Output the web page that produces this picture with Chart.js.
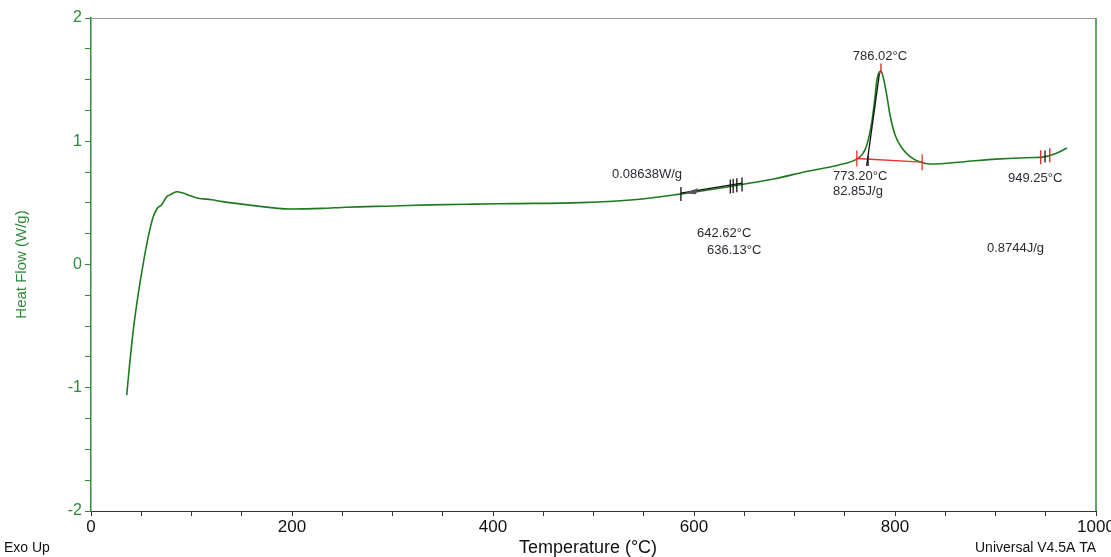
<!DOCTYPE html>
<html>
<head>
<meta charset="utf-8">
<title>DSC Heat Flow</title>
<script src="https://cdn.jsdelivr.net/npm/chart.js@4.4.1/dist/chart.umd.min.js"></script>
<style>
  body { margin: 0; background: #fff; }
  canvas { display: block; }
</style>
</head>
<body>
<canvas id="dsc" width="1111" height="557"></canvas>
<script>
// Heat flow curve
const temps = [35.5, 38.2, 42.1, 47.1, 52, 57, 62, 66, 70.3, 75.3, 78.6, 85.3, 91.5, 98, 105.5, 120, 131, 160, 198, 230, 254, 300, 337, 380, 420, 487, 546, 586, 636, 679, 712, 745, 762, 768, 772, 777, 780, 782, 786, 788.4, 791.7, 795, 800, 806.7, 815, 825, 835, 871, 900, 937, 947, 960, 971];
const heatFlow = [-1.06, -0.83, -0.53, -0.234, 0.01, 0.226, 0.389, 0.457, 0.484, 0.55, 0.565, 0.59, 0.58, 0.56, 0.54, 0.525, 0.51, 0.48, 0.45, 0.455, 0.465, 0.475, 0.484, 0.49, 0.494, 0.502, 0.53, 0.571, 0.633, 0.693, 0.755, 0.809, 0.855, 0.9, 0.97, 1.16, 1.35, 1.5, 1.57, 1.514, 1.378, 1.215, 1.053, 0.947, 0.876, 0.831, 0.815, 0.836, 0.855, 0.868, 0.871, 0.9, 0.945];

const xTicks = [0, 200, 400, 600, 800, 1000];
const yTicks = [-2, -1, 0, 1, 2];

// analysis labels: [text, temperature, heat flow]
const labels = [
  ["786.02°C", 785, 1.687, "center"],
  ["773.20°C", 738.3, 0.711, "left"],
  ["82.85J/g", 738.3, 0.589, "left"],
  ["0.08638W/g", 518.4, 0.728, "left"],
  ["642.62°C", 603, 0.256, "left"],
  ["636.13°C", 613, 0.118, "left"],
  ["949.25°C", 912.4, 0.695, "left"],
  ["0.8744J/g", 891.5, 0.134, "left"]
];

// analysis marks
const peakTemp = 786.02, peakFlow = 1.56;
const tangent = [[784.5, 1.55], [771.8, 0.80]];
const baseline = [[762, 0.86], [827, 0.83]];
const glassLine = [[587, 0.579], [647.8, 0.66]];
const glassTicks = [587, 636.13, 639, 642.62, 647.8];
const endBlack = [949.25];
const endRed = [945, 954];

const green = "#2f8a3a";
const curveGreen = "#1f7a1f";

const flowAt = (t) => {
  for (let i = 1; i < temps.length; i++) {
    if (temps[i] >= t) {
      const f = (t - temps[i - 1]) / (temps[i] - temps[i - 1]);
      return heatFlow[i - 1] + f * (heatFlow[i] - heatFlow[i - 1]);
    }
  }
  return heatFlow[heatFlow.length - 1];
};

const marks = {
  id: "marks",
  afterDatasetsDraw(chart) {
    const { ctx } = chart;
    const x = chart.scales.x, y = chart.scales.y;
    const px = (t) => x.getPixelForValue(t);
    const py = (v) => y.getPixelForValue(v);
    const seg = (a, b, col) => {
      ctx.strokeStyle = col;
      ctx.beginPath();
      ctx.moveTo(px(a[0]), py(a[1]));
      ctx.lineTo(px(b[0]), py(b[1]));
      ctx.stroke();
    };
    const vtick = (t, v, col, h) => {
      ctx.strokeStyle = col;
      ctx.beginPath();
      ctx.moveTo(px(t), py(v) - h);
      ctx.lineTo(px(t), py(v) + h);
      ctx.stroke();
    };
    ctx.save();
    ctx.lineWidth = 1.3;

    // peak
    vtick(peakTemp, peakFlow + 0.03, "#e02020", 5);
    seg(tangent[0], tangent[1], "#111");
    seg(baseline[0], baseline[1], "#e83030");
    vtick(baseline[0][0], baseline[0][1], "#e83030", 8);
    vtick(baseline[1][0], baseline[1][1], "#e83030", 8);
    vtick(773.2, 0.84, "#111", 5);

    // glass transition
    seg(glassLine[0], glassLine[1], "#111");
    glassTicks.forEach((t) => vtick(t, flowAt(t), "#111", 7));
    ctx.fillStyle = "#555";
    const ax = px(glassLine[0][0]) + 3, ay = py(glassLine[0][1]);
    ctx.beginPath();
    ctx.moveTo(ax, ay);
    ctx.lineTo(ax + 14, ay - 5);
    ctx.lineTo(ax + 12, ay + 1);
    ctx.closePath();
    ctx.fill();

    // end point
    endRed.forEach((t) => vtick(t, flowAt(t), "#e02020", 7));
    endBlack.forEach((t) => vtick(t, flowAt(t), "#111", 6));

    // texts
    ctx.font = "13px 'Liberation Sans', Arial, sans-serif";
    ctx.fillStyle = "#2a2a33";
    ctx.textBaseline = "middle";
    labels.forEach(([txt, t, v, al]) => {
      ctx.textAlign = al;
      ctx.fillText(txt, px(t), py(v));
    });
    ctx.restore();
  },
  afterDraw(chart) {
    const { ctx, chartArea } = chart;
    ctx.save();
    // frame top and right
    ctx.lineWidth = 1;
    ctx.strokeStyle = "#999";
    ctx.beginPath();
    ctx.moveTo(chartArea.left, chartArea.top + 0.5);
    ctx.lineTo(chartArea.right, chartArea.top + 0.5);
    ctx.stroke();
    ctx.strokeStyle = green;
    ctx.lineWidth = 1.5;
    ctx.beginPath();
    ctx.moveTo(chartArea.right, chartArea.top);
    ctx.lineTo(chartArea.right, chartArea.bottom);
    ctx.stroke();

    // axis titles and footer
    ctx.fillStyle = "#111";
    ctx.textBaseline = "middle";
    ctx.font = "18px 'Liberation Sans', Arial, sans-serif";
    ctx.textAlign = "center";
    ctx.fillText("Temperature (°C)", 588, 548);
    ctx.font = "14px 'Liberation Sans', Arial, sans-serif";
    ctx.textAlign = "left";
    ctx.fillText("Exo Up", 4, 548);
    ctx.fillText("Universal V4.5A TA", 975, 548);

    ctx.translate(22, (chartArea.top + chartArea.bottom) / 2);
    ctx.rotate(-Math.PI / 2);
    ctx.fillStyle = green;
    ctx.font = "15px 'Liberation Sans', Arial, sans-serif";
    ctx.textAlign = "center";
    ctx.fillText("Heat Flow (W/g)", 0, 0);
    ctx.restore();
  }
};

new Chart(document.getElementById("dsc"), {
  type: "line",
  data: {
    datasets: [{
      data: temps.map((t, i) => ({ x: t, y: heatFlow[i] })),
      borderColor: curveGreen,
      borderWidth: 1.6,
      pointRadius: 0,
      cubicInterpolationMode: "monotone",
      fill: false
    }]
  },
  options: {
    responsive: false,
    animation: false,
    layout: { padding: { top: 18, right: 15, left: 0, bottom: 0 } },
    plugins: { legend: { display: false }, tooltip: { enabled: false } },
    scales: {
      x: {
        type: "linear",
        min: 0,
        max: 1000,
        afterFit: (s) => { s.height = 46; s.paddingLeft = 0; s.paddingRight = 0; },
        ticks: {
          stepSize: 50,
          autoSkip: false,
          maxRotation: 0,
          color: "#111",
          font: { family: "'Liberation Sans', Arial, sans-serif", size: 17 },
          padding: 1,
          callback: (v) => (xTicks.includes(v) ? String(v) : "")
        },
        grid: { drawOnChartArea: false, tickLength: 5, color: "#333", tickWidth: 1 },
        border: { color: "#333", width: 1 }
      },
      y: {
        min: -2,
        max: 2,
        afterFit: (s) => { s.width = 91; },
        ticks: {
          stepSize: 0.25,
          autoSkip: false,
          color: green,
          font: { family: "'Liberation Sans', Arial, sans-serif", size: 16 },
          padding: 3,
          callback: (v) => (yTicks.includes(v) ? String(v) : "")
        },
        grid: { drawOnChartArea: false, tickLength: 6, color: green, tickWidth: 1 },
        border: { color: green, width: 1.5 }
      }
    }
  },
  plugins: [marks]
});
</script>
</body>
</html>
